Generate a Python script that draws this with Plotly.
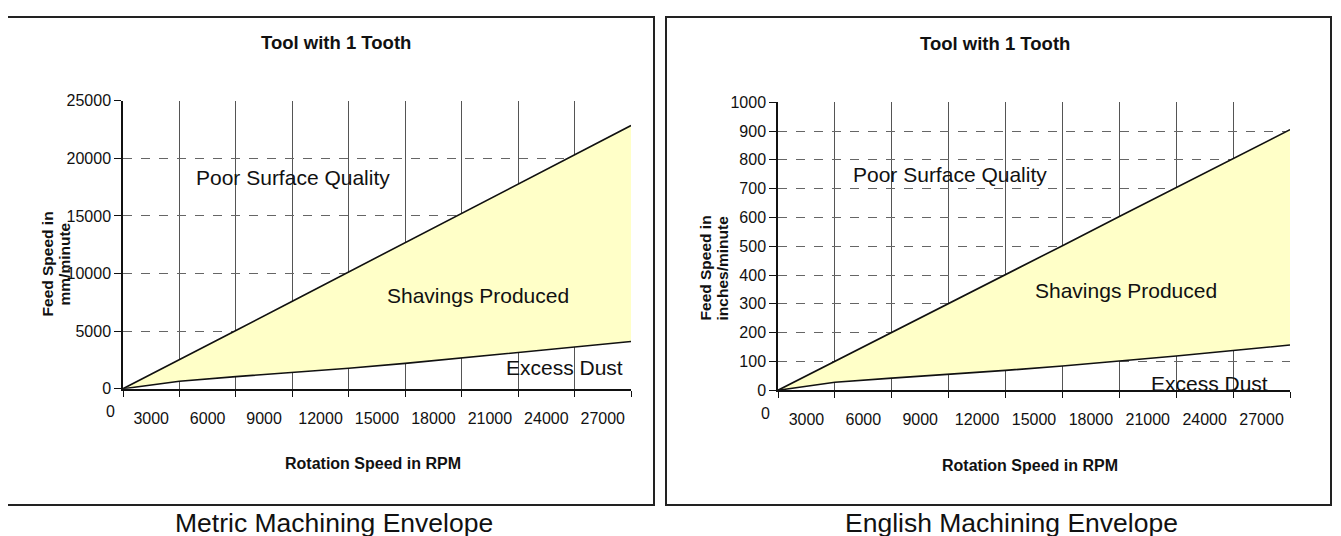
import plotly.graph_objects as go

W, H = 1341, 536
OFFX = 8  # page body margin in the browser (horizontal)

# ---------------- data ----------------
rpm = [0, 3000, 6000, 9000, 12000, 15000, 18000, 21000, 24000, 27000]
x_tick_labels = ["3000", "6000", "9000", "12000", "15000", "18000", "21000", "24000", "27000"]

metric_upper = [0, 2500, 5050, 7600, 10150, 12700, 15200, 17750, 20300, 22850]
metric_lower = [0, 650, 1050, 1400, 1780, 2200, 2680, 3200, 3650, 4100]
metric_yticks = [0, 5000, 10000, 15000, 20000, 25000]

english_upper = [0, 100, 200, 301, 402, 502, 603, 703, 804, 905]
english_lower = [0, 28, 42, 55, 69, 84, 101, 119, 138, 157]
english_yticks = [0, 100, 200, 300, 400, 500, 600, 700, 800, 900, 1000]

FONT = "Liberation Sans, Arial, sans-serif"
TXT = "#111111"
FILL = "#FFFFC8"


def fx(px):
    return (px - OFFX) / W


def fy(py):
    f = max((py - 15.1) / 0.97, 1.0)
    return 1 - f / H


fig = go.Figure()

panels = [
    dict(xa="x", ya="y", lower=metric_lower, upper=metric_upper,
         yticks=metric_yticks, ymax=25000,
         xdom=[fx(123), fx(631)], ydom=[fy(388.5), fy(100)]),
    dict(xa="x2", ya="y2", lower=english_lower, upper=english_upper,
         yticks=english_yticks, ymax=1000,
         xdom=[fx(778), fx(1290)], ydom=[fy(390), fy(101.5)]),
]

for p in panels:
    fig.add_trace(go.Scatter(x=rpm, y=p["lower"], mode="lines", xaxis=p["xa"], yaxis=p["ya"],
                             line=dict(color="#111111", width=1.6), showlegend=False,
                             hoverinfo="skip"))
    fig.add_trace(go.Scatter(x=rpm, y=p["upper"], mode="lines", xaxis=p["xa"], yaxis=p["ya"],
                             line=dict(color="#111111", width=1.6), fill="tonexty",
                             fillcolor=FILL, showlegend=False, hoverinfo="skip"))

mid_ticks = [v - (rpm[1] - rpm[0]) / 2 for v in rpm[1:]]

for i, p in enumerate(panels):
    sfx = "" if i == 0 else "2"
    fig.update_layout(**{
        "xaxis" + sfx: dict(
            domain=p["xdom"], range=[rpm[0], rpm[-1]], anchor="y" + sfx,
            tickmode="array", tickvals=mid_ticks, ticktext=x_tick_labels,
            showgrid=False, zeroline=False, ticks="", ticklen=0,
            ticklabelstandoff=14,
            showline=True, linecolor="#111111", linewidth=2,
            tickfont=dict(family=FONT, size=16, color=TXT),
            minor=dict(tickmode="array", tickvals=rpm, ticks="outside", ticklen=6,
                       tickcolor="#111111", tickwidth=1.3,
                       showgrid=True, gridcolor="#555555", gridwidth=1.3),
            fixedrange=True,
        ),
        "yaxis" + sfx: dict(
            domain=p["ydom"], range=[0, p["ymax"]], anchor="x" + sfx,
            tickmode="array", tickvals=p["yticks"], tickformat="d",
            showgrid=True, gridcolor="#666666", gridwidth=1, griddash="dash",
            zeroline=False, ticks="outside", ticklen=7, tickcolor="#111111",
            showline=True, linecolor="#111111", linewidth=1.5,
            tickfont=dict(family=FONT, size=16, color=TXT),
            fixedrange=True,
        ),
    })

annotations = []


def ann(text, x, y, size, bold=False, angle=0, xref="paper", yref="paper", xanchor="center",
        yanchor="middle"):
    if bold:
        text = "<b>" + text + "</b>"
    annotations.append(dict(text=text, x=x, y=y, xref=xref, yref=yref, showarrow=False,
                            xanchor=xanchor, yanchor=yanchor, textangle=angle,
                            font=dict(family=FONT, size=size, color=TXT)))


# Left panel texts
ann("Tool with 1 Tooth", fx(336), fy(42), 18.5, bold=True)
ann("Rotation Speed in RPM", fx(373), fy(463), 16, bold=True)
ann("Feed Speed in", fx(47), fy(264), 15.5, bold=True, angle=-90)
ann("mm/minute", fx(64), fy(264), 15.5, bold=True, angle=-90)
ann("0", fx(110), fy(411), 16)
ann("Metric Machining Envelope", fx(334), fy(523), 26.5)
ann("Poor Surface Quality", 9035, 18350, 21, xref="x", yref="y")
ann("Shavings Produced", 18870, 8070, 21, xref="x", yref="y")
ann("Excess Dust", 23490, 1860, 21, xref="x", yref="y")

# Right panel texts
ann("Tool with 1 Tooth", fx(995), fy(43), 18.5, bold=True)
ann("Rotation Speed in RPM", fx(1030), fy(465), 16, bold=True)
ann("Feed Speed in", fx(705), fy(268), 15.5, bold=True, angle=-90)
ann("inches/minute", fx(722), fy(268), 15.5, bold=True, angle=-90)
ann("0", fx(765), fy(413), 16)
ann("English Machining Envelope", fx(1011), fy(523), 26.5)
ann("Poor Surface Quality", 9070, 748, 21, xref="x2", yref="y2")
ann("Shavings Produced", 18350, 345, 21, xref="x2", yref="y2")
ann("Excess Dust", 22780, 24, 21, xref="x2", yref="y2")

shapes = [
    dict(type="rect", xref="paper", yref="paper", x0=fx(7), x1=fx(654), y0=fy(505), y1=fy(11),
         line=dict(color="#222222", width=2)),
    dict(type="rect", xref="paper", yref="paper", x0=fx(666), x1=fx(1331), y0=fy(505), y1=fy(12),
         line=dict(color="#222222", width=2)),
]

fig.update_layout(
    width=W, height=H,
    margin=dict(l=0, r=0, t=0, b=0),
    paper_bgcolor="white", plot_bgcolor="white",
    annotations=annotations, shapes=shapes,
    showlegend=False,
)

fig.write_html("out.html")
